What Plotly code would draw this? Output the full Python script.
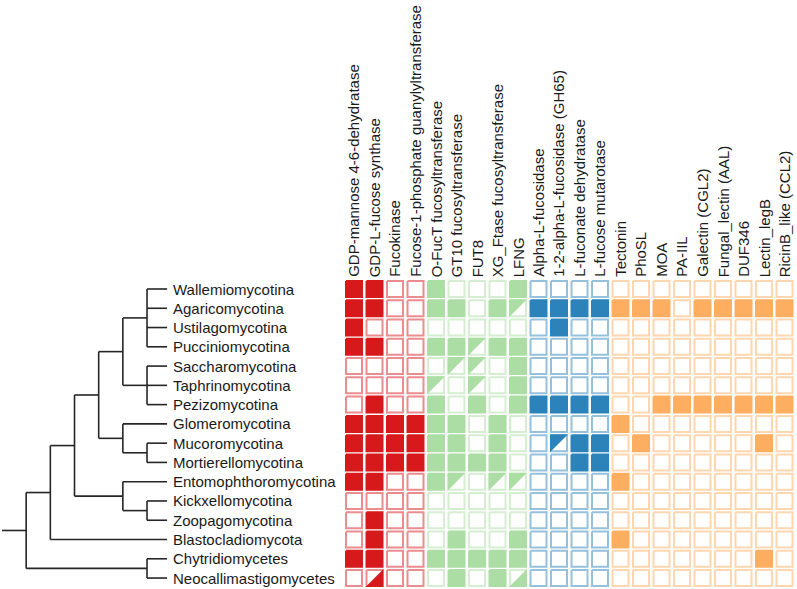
import plotly.graph_objects as go

# ---------------- data ----------------
taxa = ["Wallemiomycotina", "Agaricomycotina", "Ustilagomycotina", "Pucciniomycotina",
        "Saccharomycotina", "Taphrinomycotina", "Pezizomycotina", "Glomeromycotina",
        "Mucoromycotina", "Mortierellomycotina", "Entomophthoromycotina", "Kickxellomycotina",
        "Zoopagomycotina", "Blastocladiomycota", "Chytridiomycetes", "Neocallimastigomycetes"]

# cladogram (nested groups of leaf names)
tree = [[[[[["Wallemiomycotina", "Agaricomycotina", "Ustilagomycotina", "Pucciniomycotina"],
            ["Saccharomycotina", "Taphrinomycotina", "Pezizomycotina"]],
           ["Glomeromycotina", ["Mucoromycotina", "Mortierellomycotina"]]],
          ["Entomophthoromycotina", ["Kickxellomycotina", "Zoopagomycotina"]]],
         "Blastocladiomycota"],
        ["Chytridiomycetes", "Neocallimastigomycetes"]]

red_cols = ["GDP-mannose 4-6-dehydratase", "GDP-L-fucose synthase", "Fucokinase",
            "Fucose-1-phosphate guanylyltransferase"]
green_cols = ["O-FucT fucosyltransferase", "GT10 fucosyltransferase", "FUT8",
              "XG_Ftase fucosyltransferase", "LFNG"]
blue_cols = ["Alpha-L-fucosidase", "1-2-alpha-L-fucosidase (GH65)", "L-fuconate dehydratase",
             "L-fucose mutarotase"]
orange_cols = ["Tectonin", "PhoSL", "MOA", "PA-IIL", "Galectin (CGL2)", "Fungal_lectin (AAL)",
               "DUF346", "Lectin_legB", "RicinB_like (CCL2)"]

# 0 = absent, 1 = present, 2 = partial (upper-left half), 3 = partial (lower-right half)
red_vals = [
    [1, 1, 0, 0], [1, 1, 0, 0], [1, 0, 0, 0], [1, 1, 0, 0],
    [0, 0, 0, 0], [0, 0, 0, 0], [0, 1, 0, 0], [1, 1, 1, 1],
    [1, 1, 1, 1], [1, 1, 1, 1], [1, 1, 0, 0], [0, 0, 0, 0],
    [0, 1, 0, 0], [0, 1, 0, 0], [1, 1, 0, 0], [0, 3, 0, 0]]
green_vals = [
    [1, 0, 0, 0, 1], [1, 1, 0, 1, 2], [0, 0, 0, 0, 0], [1, 1, 2, 1, 1],
    [0, 2, 2, 0, 1], [2, 0, 2, 0, 1], [1, 0, 1, 0, 1], [1, 1, 0, 1, 0],
    [1, 1, 0, 1, 0], [1, 1, 1, 1, 0], [1, 2, 0, 2, 2], [0, 0, 0, 0, 0],
    [0, 0, 0, 0, 0], [0, 1, 0, 0, 1], [1, 1, 1, 1, 1], [0, 1, 0, 1, 3]]
blue_vals = [
    [0, 0, 0, 0], [1, 1, 1, 1], [0, 1, 0, 0], [0, 0, 0, 0],
    [0, 0, 0, 0], [0, 0, 0, 0], [1, 1, 1, 1], [0, 0, 0, 0],
    [0, 2, 1, 1], [0, 0, 1, 1], [0, 0, 0, 0], [0, 0, 0, 0],
    [0, 0, 0, 0], [0, 0, 0, 0], [0, 0, 0, 0], [0, 0, 0, 0]]
orange_vals = [
    [0, 0, 0, 0, 0, 0, 0, 0, 0], [1, 1, 1, 0, 1, 1, 1, 1, 1],
    [0, 0, 0, 0, 0, 0, 0, 0, 0], [0, 0, 0, 0, 0, 0, 0, 0, 0],
    [0, 0, 0, 0, 0, 0, 0, 0, 0], [0, 0, 0, 0, 0, 0, 0, 0, 0],
    [0, 0, 1, 1, 1, 1, 1, 1, 1], [1, 0, 0, 0, 0, 0, 0, 0, 0],
    [0, 1, 0, 0, 0, 0, 0, 1, 0], [0, 0, 0, 0, 0, 0, 0, 0, 0],
    [1, 0, 0, 0, 0, 0, 0, 0, 0], [0, 0, 0, 0, 0, 0, 0, 0, 0],
    [0, 0, 0, 0, 0, 0, 0, 0, 0], [1, 0, 0, 0, 0, 0, 0, 0, 0],
    [0, 0, 0, 0, 0, 0, 0, 1, 0], [0, 0, 0, 0, 0, 0, 0, 0, 0]]

# ---------------- styling / geometry ----------------
W, H = 797, 589
FONT = "Liberation Sans, Arial, Helvetica, sans-serif"
FS = 15
TXT = "#1a1a1a"
groups = [
    (red_cols, red_vals, "#d7191c", "#eb8c8e"),
    (green_cols, green_vals, "#abdda4", "#d5eed1"),
    (blue_cols, blue_vals, "#2b83ba", "#95c1dc"),
    (orange_cols, orange_vals, "#fdae61", "#fed6b0"),
]
col_px0, col_pitch = 354.0, 20.5     # column centre / pitch in px
row_px0, row_pitch = 289.0, 19.27    # row centre / pitch in px
lvl_px0, lvl_pitch = 2.0, 24.17      # tree level scale in px
tip_level, label_level = 6.83, 7.0
hx_in, hy_in = 8.0 / col_pitch, 8.0 / row_pitch     # border path half size
hx_out, hy_out = 9.0 / col_pitch, 9.0 / row_pitch   # outer half size

fig = go.Figure()

def square(x, y, hx, hy):
    return [x - hx, x + hx, x + hx, x - hx, x - hx, None], [y - hy, y - hy, y + hy, y + hy, y - hy, None]

def tri(x, y, hx, hy, kind):
    if kind == 2:  # upper-left
        return [x - hx, x + hx, x - hx, x - hx, None], [y - hy, y - hy, y + hy, y - hy, None]
    return [x + hx, x + hx, x - hx, x + hx, None], [y - hy, y + hy, y + hy, y - hy, None]

all_cols = []
c0 = 0
for cols, vals, col, light in groups:
    ex, ey, fx, fy, tx, ty = [], [], [], [], [], []
    for r, rowv in enumerate(vals):
        for j, v in enumerate(rowv):
            xc = c0 + j
            if v == 1:
                a, b = square(xc, r, hx_in, hy_in)
                fx += a; fy += b
            else:
                a, b = square(xc, r, hx_in, hy_in)
                ex += a; ey += b
                if v in (2, 3):
                    a, b = tri(xc, r, hx_out, hy_out, v)
                    tx += a; ty += b
    fig.add_trace(go.Scatter(x=ex, y=ey, mode="lines", fill="toself", fillcolor="white",
                             line=dict(color=light, width=2), hoverinfo="skip", showlegend=False))
    fig.add_trace(go.Scatter(x=fx, y=fy, mode="lines", fill="toself", fillcolor=col,
                             line=dict(color=col, width=2), hoverinfo="skip", showlegend=False))
    if tx:
        fig.add_trace(go.Scatter(x=tx, y=ty, mode="lines", fill="toself", fillcolor=col,
                                 line=dict(color=col, width=0), hoverinfo="skip", showlegend=False))
    all_cols += cols
    c0 += len(cols)

# ---------------- tree ----------------
row_of = {t: i for i, t in enumerate(taxa)}
lx, ly = [], []

def height(node):
    if isinstance(node, str):
        return 0
    return 1 + max(height(c) for c in node)

def layout_node(node):
    if isinstance(node, str):
        return row_of[node], tip_level
    h = height(node)
    xn = 7 - h
    kids = [layout_node(c) for c in node]
    ys = [k[0] for k in kids]
    yn = sum(ys) / len(ys)
    lx.extend([xn, xn, None]); ly.extend([min(ys), max(ys), None])
    for (yk, xk) in kids:
        lx.extend([xn, xk, None]); ly.extend([yk, yk, None])
    return yn, xn

ry, rx = layout_node(tree)
lx.extend([0, rx, None]); ly.extend([ry, ry, None])
fig.add_trace(go.Scatter(x=lx, y=ly, xaxis="x2", mode="lines",
                         line=dict(color="#262626", width=1.6), hoverinfo="skip", showlegend=False))

# ---------------- text ----------------
ann = []
for i, t in enumerate(taxa):
    ann.append(dict(x=label_level, y=i, xref="x2", yref="y", text=t, showarrow=False,
                    xanchor="left", yanchor="middle", font=dict(family=FONT, size=FS, color=TXT)))
for j, c in enumerate(all_cols):
    ann.append(dict(x=j, y=-0.5, xref="x", yref="y", text=c, showarrow=False, textangle=-90,
                    xanchor="center", yanchor="bottom", font=dict(family=FONT, size=FS, color=TXT)))

x_lo = -col_px0 / col_pitch
y_top = -row_px0 / row_pitch
l_lo = -lvl_px0 / lvl_pitch
fig.update_layout(
    width=W, height=H, margin=dict(l=0, r=0, t=0, b=0, pad=0),
    paper_bgcolor="white", plot_bgcolor="white",
    xaxis=dict(range=[x_lo, x_lo + W / col_pitch], visible=False, fixedrange=True),
    xaxis2=dict(range=[l_lo, l_lo + W / lvl_pitch], overlaying="x", visible=False, fixedrange=True),
    yaxis=dict(range=[y_top + H / row_pitch, y_top], visible=False, fixedrange=True),
    annotations=ann,
)

fig.write_html("out.html", config={"displayModeBar": False},
               post_script="document.body.style.margin='0';document.body.style.overflow='hidden';")
